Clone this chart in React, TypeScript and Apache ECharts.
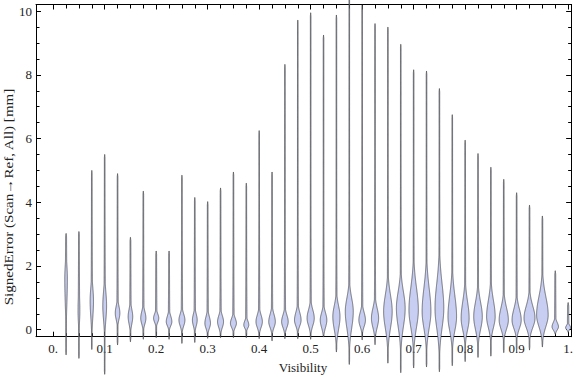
import React, { useEffect, useRef } from "react";
import * as echarts from "echarts";

// Visibility bin centres
const positions = [0.025, 0.05, 0.075, 0.1, 0.125, 0.15, 0.175, 0.2, 0.225, 0.25, 0.275, 0.3, 0.325, 0.35, 0.375, 0.4, 0.425, 0.45, 0.475, 0.5, 0.525, 0.55, 0.575, 0.6, 0.625, 0.65, 0.675, 0.7, 0.725, 0.75, 0.775, 0.8, 0.825, 0.85, 0.875, 0.9, 0.925, 0.95, 0.975, 1.0];
// Max / min signed error per bin [mm]
const maxVals = [3.02, 3.08, 5.0, 5.5, 4.9, 2.9, 4.35, 2.47, 2.47, 4.85, 4.15, 4.02, 4.45, 4.95, 4.6, 6.25, 4.95, 8.33, 9.72, 9.95, 9.25, 9.88, 10.6, 10.2, 9.61, 9.5, 8.96, 8.16, 8.12, 7.57, 6.75, 5.95, 5.53, 5.1, 4.72, 4.3, 3.91, 3.57, 1.85, 0.85];
const minVals = [-0.79, -0.9, -0.62, -1.4, -0.48, -0.38, -0.3, -0.25, -0.3, -0.43, -0.4, -0.27, -0.25, -0.25, -0.25, -0.28, -0.35, -0.28, -0.28, -0.3, -0.22, -0.7, -1.09, -0.32, -0.47, -1.05, -1.35, -1.2, -1.17, -1.32, -1.13, -1.0, -0.87, -0.83, -0.72, -0.69, -0.64, -0.54, -0.14, -0.08];
// Mode of each distribution [mm]
const modeVals = [1.6, 0.6, 0.9, 0.75, 0.52, 0.41, 0.36, 0.36, 0.25, 0.3, 0.3, 0.2, 0.25, 0.2, 0.15, 0.25, 0.25, 0.25, 0.3, 0.36, 0.3, 0.41, 0.57, 0.3, 0.36, 0.57, 0.67, 0.62, 0.57, 0.67, 0.41, 0.36, 0.41, 0.41, 0.3, 0.3, 0.36, 0.46, 0.09, 0.06];
// Relative peak density (violin half-width scale)
const peakDensity = [1.3, 0.9, 1.7, 1.9, 2.3, 2.3, 2.6, 2.6, 2.8, 3.0, 2.4, 2.8, 3.0, 3.0, 2.5, 3.2, 3.3, 3.3, 3.3, 3.6, 3.3, 3.6, 4.0, 3.3, 3.6, 4.3, 4.4, 4.7, 4.4, 4.4, 4.3, 4.0, 4.3, 4.3, 4.6, 4.6, 5.5, 5.8, 3.2, 2.5];
// Spread above / below the mode [mm]
const spreadUp = [0.45, 0.5, 0.42, 0.45, 0.22, 0.23, 0.21, 0.14, 0.18, 0.19, 0.19, 0.21, 0.19, 0.16, 0.13, 0.21, 0.23, 0.21, 0.24, 0.26, 0.23, 0.34, 0.42, 0.24, 0.31, 0.52, 0.52, 0.7, 0.73, 0.78, 0.66, 0.52, 0.45, 0.5, 0.39, 0.35, 0.38, 0.57, 0.14, 0.08];
const spreadDown = [0.8, 0.38, 0.5, 0.45, 0.2, 0.23, 0.18, 0.13, 0.13, 0.18, 0.18, 0.16, 0.18, 0.13, 0.1, 0.18, 0.18, 0.18, 0.18, 0.23, 0.23, 0.4, 0.52, 0.2, 0.29, 0.52, 0.57, 0.55, 0.52, 0.62, 0.44, 0.37, 0.4, 0.34, 0.28, 0.26, 0.29, 0.36, 0.1, 0.06];

const xMajorTicks = [0, 0.1, 0.2, 0.3, 0.4, 0.5, 0.6, 0.7, 0.8, 0.9, 1.0];
const xMinorTicks = [0.025, 0.05, 0.075, 0.125, 0.15, 0.175, 0.225, 0.25, 0.275, 0.325, 0.35, 0.375, 0.425, 0.45, 0.475, 0.525, 0.55, 0.575, 0.625, 0.65, 0.675, 0.725, 0.75, 0.775, 0.825, 0.85, 0.875, 0.925, 0.95, 0.975];
const yMajorTicks = [0, 2, 4, 6, 8, 10];
const yMinorTicks = [0.5, 1, 1.5, 2.5, 3, 3.5, 4.5, 5, 5.5, 6.5, 7, 7.5, 8.5, 9, 9.5];

const X_MIN = -0.0334;
const X_MAX = 1.0068;
const Y_MIN = -0.22;
const Y_MAX = 10.21;
const FONT = '"Liberation Serif", "Times New Roman", serif';

function xFmt(v: number) {
  if (v === 0) return "0.";
  if (v === 1) return "1.";
  return v.toFixed(1);
}

export default function App() {
  const ref = useRef<HTMLDivElement>(null);
  useEffect(() => {
    if (!ref.current) return;
    const chart = echarts.init(ref.current, null, { renderer: "svg" });

    const lineStyle = { color: "#000", width: 1 };
    const baseX = (extra: any) => ({
      type: "value",
      min: X_MIN,
      max: X_MAX,
      splitLine: { show: false },
      axisLine: { show: false, onZero: false },
      axisLabel: { show: false },
      ...extra,
    });
    const baseY = (extra: any) => ({
      type: "value",
      min: Y_MIN,
      max: Y_MAX,
      splitLine: { show: false },
      axisLine: { show: false, onZero: false },
      axisLabel: { show: false },
      ...extra,
    });

    const renderItem = (params: any, api: any) => {
      const i = params.dataIndex;
      const x = api.value(0);
      const lo = api.value(1);
      const hi = api.value(2);
      const m = modeVals[i];
      const w = peakDensity[i];
      const su = spreadUp[i];
      const sd = spreadDown[i];
      const left: number[][] = [];
      const right: number[][] = [];
      const step = 0.015;
      const n = Math.max(2, Math.ceil((hi - lo) / step));
      for (let k = 0; k <= n; k++) {
        const y = lo + ((hi - lo) * k) / n;
        const z = (y - m) / (y >= m ? su : sd);
        const bulge = w * Math.exp(-0.5 * z * z);
        let tail =
          y >= m
            ? 0.3 + 0.45 * Math.exp(-(y - m) / 1.5)
            : 0.3 + 0.25 * Math.exp(-(m - y) / 0.5);
        const t = Math.min(1, (hi - y) / 0.1, (y - lo) / 0.1);
        tail *= Math.max(0.15, t);
        const hw = Math.max(bulge, tail);
        const c = api.coord([x, y]);
        left.push([c[0] - hw, c[1]]);
        right.push([c[0] + hw, c[1]]);
      }
      const pts = left.concat(right.reverse());
      return {
        type: "polygon",
        shape: { points: pts },
        style: { fill: "#c7cef2", stroke: "#3c3c3c", lineWidth: 0.8, strokeOpacity: 0.85 },
      };
    };

    const option: any = {
      animation: false,
      grid: { left: 36, right: 1.5, top: 4.5, bottom: 40.3, containLabel: false },
      xAxis: [
        baseX({
          position: "bottom",
          axisLine: { show: true, onZero: false, lineStyle },
          axisTick: { show: true, inside: true, length: 5, customValues: xMajorTicks, lineStyle },
          axisLabel: {
            show: true,
            customValues: xMajorTicks,
            formatter: (v: number) => xFmt(v),
            color: "#222",
            fontFamily: FONT,
            fontSize: 13,
            margin: 5,
          },
        }),
        baseX({
          position: "bottom",
          axisTick: { show: true, inside: true, length: 3.5, customValues: xMinorTicks, lineStyle },
        }),
        baseX({
          position: "top",
          axisLine: { show: true, onZero: false, lineStyle },
          axisTick: { show: true, inside: true, length: 5, customValues: xMajorTicks, lineStyle },
        }),
        baseX({
          position: "top",
          axisTick: { show: true, inside: true, length: 4, customValues: xMinorTicks, lineStyle },
        }),
      ],
      yAxis: [
        baseY({
          position: "left",
          axisLine: { show: true, onZero: false, lineStyle },
          axisTick: { show: true, inside: true, length: 5, customValues: yMajorTicks, lineStyle },
          axisLabel: {
            show: true,
            customValues: yMajorTicks,
            color: "#222",
            fontFamily: FONT,
            fontSize: 13,
            margin: 4,
          },
        }),
        baseY({
          position: "left",
          axisTick: { show: true, inside: true, length: 3.5, customValues: yMinorTicks, lineStyle },
        }),
        baseY({
          position: "right",
          axisLine: { show: true, onZero: false, lineStyle },
          axisTick: { show: true, inside: true, length: 5.5, customValues: yMajorTicks, lineStyle },
        }),
        baseY({
          position: "right",
          axisTick: { show: true, inside: true, length: 3.5, customValues: yMinorTicks, lineStyle },
        }),
      ],
      series: [
        {
          type: "custom",
          xAxisIndex: 0,
          yAxisIndex: 0,
          clip: false,
          renderItem,
          encode: { x: 0, y: [1, 2] },
          data: positions.map((p, i) => [p, minVals[i], maxVals[i]]),
        },
      ],
      graphic: [
        {
          type: "text",
          x: 303,
          y: 367,
          style: {
            text: "Visibility",
            font: `13px ${FONT}`,
            fill: "#222",
            align: "center",
            verticalAlign: "middle",
          },
        },
        {
          type: "text",
          x: 8,
          y: 197,
          rotation: Math.PI / 2,
          scaleX: 1.16,
          style: {
            text: "SignedError (Scan\u2192Ref, All) [mm]",
            font: `13px ${FONT}`,
            fill: "#222",
            align: "center",
            verticalAlign: "middle",
          },
        },
      ],
    };
    chart.setOption(option);
    return () => chart.dispose();
  }, []);
  return (
    <div
      ref={ref}
      style={{ position: "absolute", left: 0, top: 0, width: 576, height: 377 }}
    />
  );
}
